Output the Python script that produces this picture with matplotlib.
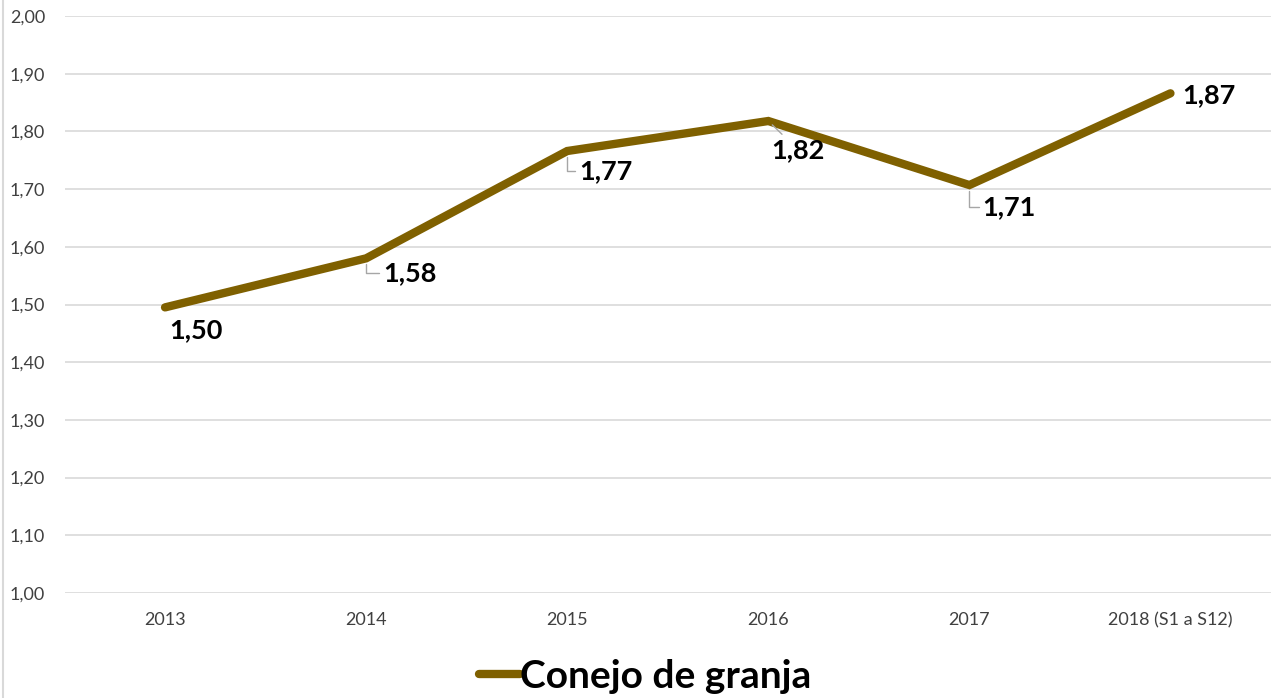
import matplotlib.pyplot as plt
from matplotlib.lines import Line2D

plt.rcParams['font.family'] = ['Lato', 'DejaVu Sans']

categories = ['2013', '2014', '2015', '2016', '2017', '2018 (S1 a S12)']
values = [1.495, 1.58, 1.766, 1.818, 1.707, 1.866]
labels = ['1,50', '1,58', '1,77', '1,82', '1,71', '1,87']

LINE_COLOR = '#7F6000'
GRID_COLOR = '#d9d9d9'
TEXT_GRAY = '#404040'

# label offsets (pixels) and whether a leader line is drawn
label_offsets = [(31, -23), (44, -15), (39, -20), (30, -29), (40, -22), (38, -2)]
leaders = [False, True, True, True, True, False]
leader_styles = [None, 'angle,angleA=0,angleB=90', 'angle,angleA=0,angleB=90',
                 'arc3', 'angle,angleA=0,angleB=90', None]

fig = plt.figure(figsize=(12.78, 6.98), dpi=100)
ax = fig.add_axes([64.5 / 1278, 105 / 698, (1271 - 64.5) / 1278, (593 - 16) / 698])

x = list(range(len(categories)))
ax.plot(x, values, color=LINE_COLOR, lw=6, solid_capstyle='round',
        solid_joinstyle='miter', label='Conejo de granja', zorder=3)

for i, (v, lab) in enumerate(zip(values, labels)):
    dx, dy = label_offsets[i]
    kw = {}
    if leaders[i]:
        kw['arrowprops'] = dict(arrowstyle='-', color='#a6a6a6', lw=1,
                                connectionstyle=leader_styles[i],
                                shrinkA=1, shrinkB=4)
    ax.annotate(lab, (i, v), xytext=(dx, dy), textcoords='offset pixels',
                ha='center', va='center', fontsize=19.5, fontweight='bold',
                color='black', zorder=4, **kw)

ax.set_xlim(-0.5, len(categories) - 0.5)
ax.set_ylim(1.0, 2.0)
ax.set_yticks([1.0 + 0.1 * k for k in range(11)])
ax.set_yticklabels([f'{1.0 + 0.1 * k:.2f}'.replace('.', ',') for k in range(11)])
ax.set_xticks(x)
ax.set_xticklabels(categories)
ax.tick_params(axis='both', length=0, labelsize=13, labelcolor=TEXT_GRAY)
ax.tick_params(axis='y', pad=14)
ax.tick_params(axis='x', pad=14)
ax.grid(axis='y', color=GRID_COLOR, lw=1.2)
ax.set_axisbelow(True)
for s in ax.spines.values():
    s.set_visible(False)

# chart border on the left
fig.add_artist(Line2D([3 / 1278, 3 / 1278], [0, 1], color=GRID_COLOR, lw=1.5))

fig.legend(loc='center', bbox_to_anchor=(645 / 1278, 1 - 676 / 698), frameon=False,
           prop={'size': 28, 'weight': 'bold'}, handlelength=1.05, handletextpad=0.0)

fig.savefig('out.png', dpi=100)
